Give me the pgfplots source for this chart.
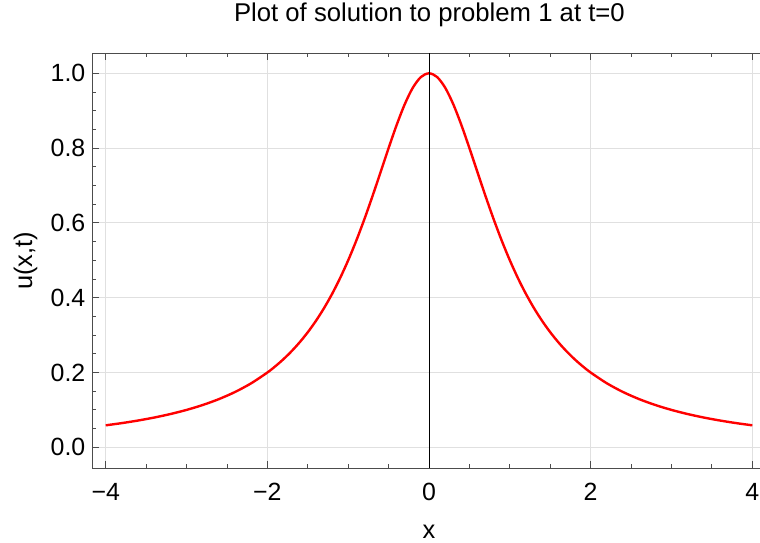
\documentclass[border=0pt]{standalone}
\usepackage{fontspec}
\setmainfont{Liberation Sans}
\usepackage{pgfplots}
\pgfplotsset{compat=1.18}
\begin{document}
\begin{tikzpicture}
\begin{axis}[
  scale only axis,
  width=667.2bp, height=415bp,
  xmin=-4.166, xmax=4.089,
  ymin=-0.0561, ymax=1.0535,
  axis x line=box, axis y line=left,
  x axis line style={-}, y axis line style={-},
  axis line style={draw=black!70, line width=1.1bp},
  xtick={-4,-2,0,2,4},
  xticklabels={−4,−2,0,2,4},
  ytick={0,0.2,0.4,0.6,0.8,1.0},
  yticklabels={0.0,0.2,0.4,0.6,0.8,1.0},
  minor x tick num=3, minor y tick num=3,
  xtick pos=both, ytick pos=left,
  tick align=inside,
  major tick length=7bp, minor tick length=4bp,
  every tick/.style={draw=black!70, line width=0.9bp},
  grid=major,
  major grid style={draw=black!12, line width=0.9bp},
  xticklabel style={font=\fontsize{25}{30}\selectfont, inner sep=0pt, anchor=north, yshift=-14.7bp},
  yticklabel style={font=\fontsize{25}{30}\selectfont, inner sep=0pt, anchor=east, xshift=-6.8bp},
  xlabel={x},
  xlabel style={font=\fontsize{25.5}{30}\selectfont, at={(axis cs:0,-0.2451)}, anchor=base, inner sep=0pt},
  ylabel={u(x,t)},
  ylabel style={font=\fontsize{25.5}{30}\selectfont, at={(axis cs:-4.91,0.4987)}, anchor=base, inner sep=0pt},
  title={Plot of solution to problem 1 at t=0},
  title style={font=\fontsize{25.8}{30}\selectfont, at={(axis cs:0.005,1.1212)}, anchor=base, inner sep=0pt},
]
\addplot[red, line width=2.4bp, smooth] coordinates {
(-4.0,0.058824)(-3.8,0.064767)(-3.6,0.071633)(-3.4,0.079618)(-3.2,0.088968)
(-3.0,0.1)(-2.8,0.113122)(-2.6,0.128866)(-2.4,0.147929)(-2.2,0.171233)
(-2.0,0.2)(-1.9,0.216920)(-1.8,0.235849)(-1.7,0.257069)(-1.6,0.280899)
(-1.5,0.307692)(-1.4,0.337838)(-1.3,0.371747)(-1.2,0.409836)(-1.1,0.452489)
(-1.0,0.5)(-0.9,0.552486)(-0.8,0.609756)(-0.7,0.671141)(-0.6,0.735294)
(-0.5,0.8)(-0.4,0.862069)(-0.3,0.917431)(-0.2,0.961538)(-0.1,0.990099)
(0,1)
(0.1,0.990099)(0.2,0.961538)(0.3,0.917431)(0.4,0.862069)(0.5,0.8)
(0.6,0.735294)(0.7,0.671141)(0.8,0.609756)(0.9,0.552486)(1.0,0.5)
(1.1,0.452489)(1.2,0.409836)(1.3,0.371747)(1.4,0.337838)(1.5,0.307692)
(1.6,0.280899)(1.7,0.257069)(1.8,0.235849)(1.9,0.216920)(2.0,0.2)
(2.2,0.171233)(2.4,0.147929)(2.6,0.128866)(2.8,0.113122)(3.0,0.1)
(3.2,0.088968)(3.4,0.079618)(3.6,0.071633)(3.8,0.064767)(4.0,0.058824)
};
\addplot[black, line width=0.9bp] coordinates {(0,-0.0561) (0,1.0535)};
\coordinate (A) at (rel axis cs:0,0);
\end{axis}
\pgfresetboundingbox
\path (A) ++(-92.3bp,-74.7bp) rectangle ++(760bp,543bp);
\end{tikzpicture}
\end{document}
